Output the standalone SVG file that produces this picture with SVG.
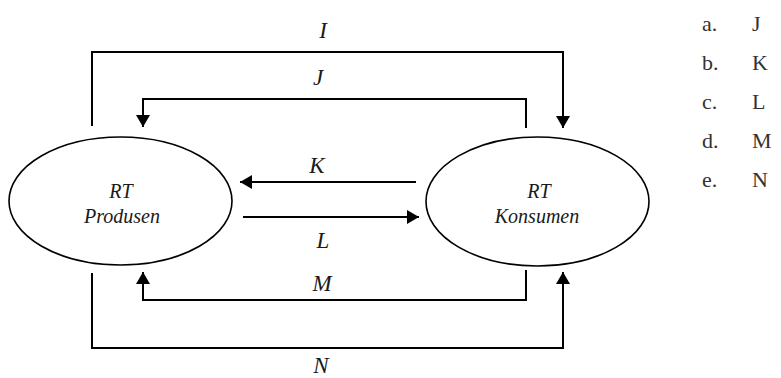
<svg xmlns="http://www.w3.org/2000/svg" width="781" height="378" viewBox="0 0 781 378">
<style>
.node ellipse{fill:none;stroke:#000;stroke-width:1.6}
.conn path{fill:none;stroke:#000;stroke-width:2}
</style>
<defs>
<marker id="ah" markerUnits="userSpaceOnUse" markerWidth="12" markerHeight="14" refX="12" refY="7" orient="auto" viewBox="0 0 12 14">
<path d="M0,0 L12,7 L0,14 z" fill="#000"/>
</marker>
</defs>
<g id="produsen" class="node">
<ellipse cx="120.5" cy="201" rx="111.5" ry="64"/>
<g font-family="'Liberation Serif', 'DejaVu Serif', serif" font-style="italic" font-size="20" fill="#1a1a1a" text-anchor="middle">
<text x="121" y="198">RT</text>
<text x="122" y="223">Produsen</text>
</g>
</g>
<g id="konsumen" class="node">
<ellipse cx="537.5" cy="201.5" rx="111.5" ry="64.5"/>
<g font-family="'Liberation Serif', 'DejaVu Serif', serif" font-style="italic" font-size="20" fill="#1a1a1a" text-anchor="middle">
<text x="539" y="198">RT</text>
<text x="537" y="223">Konsumen</text>
</g>
</g>
<g id="connectors" class="conn">
<path d="M92,126 V52 H563 V128" marker-end="url(#ah)"/>
<path d="M526,128 V99 H143 V127" marker-end="url(#ah)"/>
<path d="M416,182 H240" marker-end="url(#ah)"/>
<path d="M243,217 H419" marker-end="url(#ah)"/>
<path d="M526,270 V300 H143 V272" marker-end="url(#ah)"/>
<path d="M92,273 V348 H563 V272" marker-end="url(#ah)"/>
</g>
<g id="labels" font-family="'Liberation Serif', 'DejaVu Serif', serif" font-style="italic" font-size="23" fill="#1a1a1a" text-anchor="middle">
<text x="323" y="38">I</text>
<text x="318" y="85">J</text>
<text x="317" y="173">K</text>
<text x="323" y="248">L</text>
<text x="322" y="291">M</text>
<text x="321" y="373">N</text>
</g>
<g id="legend" font-family="'Liberation Serif', 'DejaVu Serif', serif" font-size="22" fill="#333">
<text x="702" y="31">a.</text><text x="752" y="31">J</text>
<text x="702" y="70">b.</text><text x="752" y="70">K</text>
<text x="702" y="109">c.</text><text x="752" y="109">L</text>
<text x="702" y="148">d.</text><text x="752" y="148">M</text>
<text x="702" y="187">e.</text><text x="752" y="187">N</text>
</g>
</svg>
